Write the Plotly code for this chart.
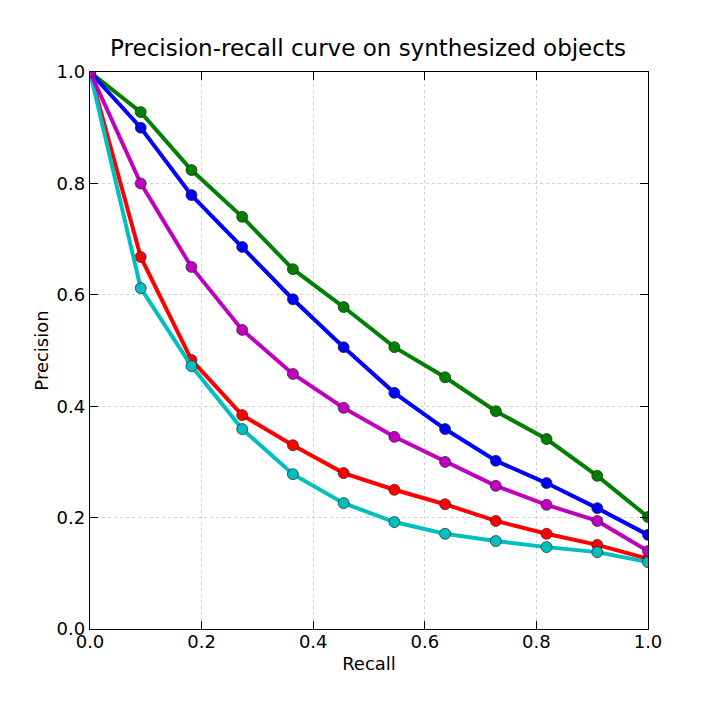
import plotly.graph_objects as go

recall = [i / 11 for i in range(12)]
series_names = ["green", "blue", "red", "cyan", "magenta"]
green = [1.0, 0.928, 0.824, 0.740, 0.646, 0.578, 0.506, 0.452, 0.391, 0.341, 0.275, 0.201]
blue = [1.0, 0.900, 0.779, 0.686, 0.592, 0.506, 0.424, 0.359, 0.302, 0.262, 0.217, 0.169]
magenta = [1.0, 0.800, 0.650, 0.537, 0.458, 0.397, 0.345, 0.300, 0.257, 0.223, 0.194, 0.140]
red = [1.0, 0.668, 0.483, 0.384, 0.330, 0.280, 0.250, 0.224, 0.194, 0.171, 0.151, 0.126]
cyan = [1.0, 0.612, 0.472, 0.359, 0.278, 0.226, 0.192, 0.171, 0.158, 0.147, 0.138, 0.120]

series = [
    (green, "#008000"),
    (blue, "#0000ff"),
    (red, "#ff0000"),
    (cyan, "#00bfbf"),
    (magenta, "#bf00bf"),
]

fig = go.Figure()
for vals, col in series:
    fig.add_trace(go.Scatter(
        x=recall, y=vals, mode="lines+markers",
        line=dict(color=col, width=4),
        marker=dict(color=col, size=11, line=dict(color="#222222", width=0.7)),
        cliponaxis=True, showlegend=False,
    ))

axis_common = dict(
    range=[0, 1], dtick=0.2, tickformat=".1f",
    showline=True, linecolor="black", linewidth=1.3, mirror="ticks",
    ticks="inside", ticklen=8, tickcolor="black",
    showgrid=True, gridcolor="#d0d0d0", griddash="dot", gridwidth=1,
    zeroline=False,
    tickfont=dict(family="DejaVu Sans", size=18, color="black"),
)

fig.update_layout(
    width=720, height=720,
    margin=dict(l=82, r=80, t=64, b=99),
    paper_bgcolor="white", plot_bgcolor="white",
    title=dict(text="Precision-recall curve on synthesized objects",
               x=0.5, xanchor="center", y=0.944, yanchor="middle",
               font=dict(family="DejaVu Sans", size=23, color="black")),
    xaxis=dict(axis_common, ticklabelstandoff=-4,
               title=dict(text="Recall", standoff=6,
               font=dict(family="DejaVu Sans", size=18, color="black"))),
    yaxis=dict(axis_common, title=dict(text="Precision", standoff=3,
               font=dict(family="DejaVu Sans", size=18, color="black"))),
)

fig.write_html("out.html")
